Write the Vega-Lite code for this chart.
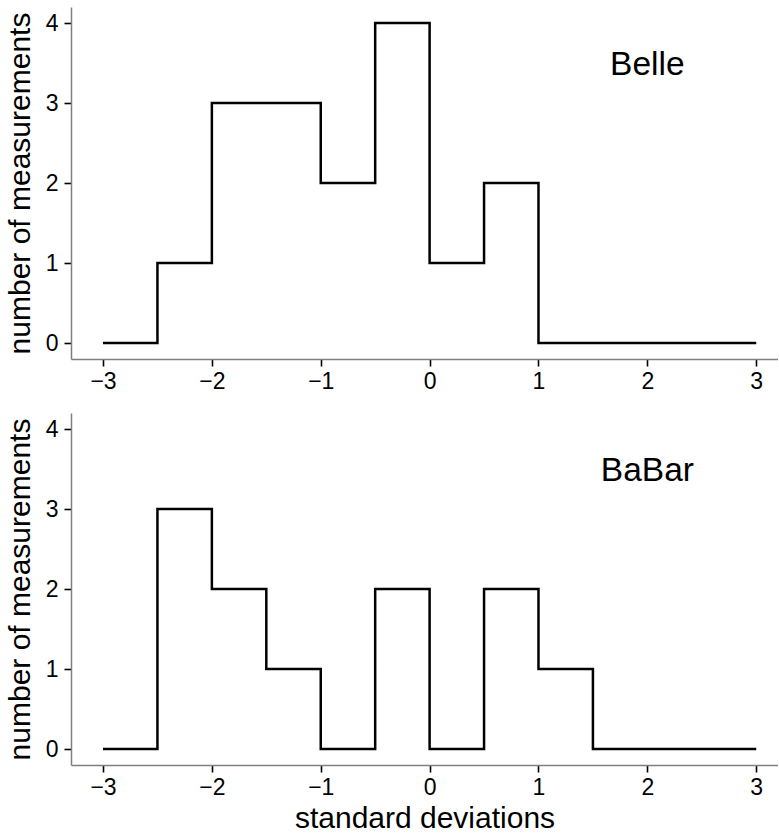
{
  "$schema": "https://vega.github.io/schema/vega-lite/v6.json",
  "padding": {"left": 5, "top": 7, "right": 0, "bottom": 0},
  "background": "white",
  "spacing": 20,
  "config": {
    "view": {"stroke": null},
    "font": "Liberation Sans",
    "axis": {
      "grid": false,
      "domainColor": "#7f7f7f",
      "domainWidth": 1.5,
      "tickColor": "#000000",
      "tickWidth": 1.6,
      "tickSize": 7,
      "labelFont": "Liberation Sans",
      "labelFontSize": 23,
      "labelColor": "#000000",
      "titleFont": "Liberation Sans",
      "titleFontSize": 30,
      "titleFontWeight": "normal",
      "titleColor": "#000000"
    }
  },
  "datasets": {
    "hist": [
      {"exp": "Belle", "sd": -3.0, "n": 0},
      {"exp": "Belle", "sd": -2.5, "n": 1},
      {"exp": "Belle", "sd": -2.0, "n": 3},
      {"exp": "Belle", "sd": -1.5, "n": 3},
      {"exp": "Belle", "sd": -1.0, "n": 2},
      {"exp": "Belle", "sd": -0.5, "n": 4},
      {"exp": "Belle", "sd": 0.0, "n": 1},
      {"exp": "Belle", "sd": 0.5, "n": 2},
      {"exp": "Belle", "sd": 1.0, "n": 0},
      {"exp": "Belle", "sd": 1.5, "n": 0},
      {"exp": "Belle", "sd": 2.0, "n": 0},
      {"exp": "Belle", "sd": 2.5, "n": 0},
      {"exp": "Belle", "sd": 3.0, "n": 0},
      {"exp": "BaBar", "sd": -3.0, "n": 0},
      {"exp": "BaBar", "sd": -2.5, "n": 3},
      {"exp": "BaBar", "sd": -2.0, "n": 2},
      {"exp": "BaBar", "sd": -1.5, "n": 1},
      {"exp": "BaBar", "sd": -1.0, "n": 0},
      {"exp": "BaBar", "sd": -0.5, "n": 2},
      {"exp": "BaBar", "sd": 0.0, "n": 0},
      {"exp": "BaBar", "sd": 0.5, "n": 2},
      {"exp": "BaBar", "sd": 1.0, "n": 1},
      {"exp": "BaBar", "sd": 1.5, "n": 0},
      {"exp": "BaBar", "sd": 2.0, "n": 0},
      {"exp": "BaBar", "sd": 2.5, "n": 0},
      {"exp": "BaBar", "sd": 3.0, "n": 0}
    ],
    "labels": [
      {"exp": "Belle", "sd": 2.0, "n": 3.35},
      {"exp": "BaBar", "sd": 2.0, "n": 3.35}
    ]
  },
  "vconcat": [
    {
      "width": 707,
      "height": 352,
      "layer": [
        {
          "data": {"name": "hist"},
          "transform": [{"filter": "datum.exp === 'Belle'"}],
          "mark": {"type": "line", "interpolate": "step-after", "color": "#000000", "strokeWidth": 2.5},
          "encoding": {
            "x": {"field": "sd", "type": "quantitative", "scale": {"domain": [-3.294, 3.2], "nice": false, "zero": false}, "axis": {"values": [-3, -2, -1, 0, 1, 2, 3], "format": "d", "title": null, "labelPadding": 4, "labelExpr": "replace(datum.label, '-', '\u2212')"}},
            "y": {"field": "n", "type": "quantitative", "scale": {"domain": [-0.2, 4.2], "nice": false, "zero": false}, "axis": {"values": [0, 1, 2, 3, 4], "format": "d", "title": "number of measurements", "labelPadding": 6, "titlePadding": 10}}
          }
        },
        {
          "mark": {"type": "rule", "color": "#7f7f7f", "strokeWidth": 1.5},
          "encoding": {"y": {"datum": 4.2, "type": "quantitative"}}
        },
        {
          "data": {"name": "labels"},
          "transform": [{"filter": "datum.exp === 'Belle'"}],
          "mark": {"type": "text", "fontSize": 33.5, "font": "Liberation Sans", "color": "#000000", "baseline": "alphabetic", "align": "center"},
          "encoding": {
            "x": {"field": "sd", "type": "quantitative"},
            "y": {"field": "n", "type": "quantitative"},
            "text": {"field": "exp"}
          }
        }
      ]
    },
    {
      "width": 707,
      "height": 352,
      "layer": [
        {
          "data": {"name": "hist"},
          "transform": [{"filter": "datum.exp === 'BaBar'"}],
          "mark": {"type": "line", "interpolate": "step-after", "color": "#000000", "strokeWidth": 2.5},
          "encoding": {
            "x": {"field": "sd", "type": "quantitative", "scale": {"domain": [-3.294, 3.2], "nice": false, "zero": false}, "axis": {"values": [-3, -2, -1, 0, 1, 2, 3], "format": "d", "title": "standard deviations", "labelPadding": 4, "titlePadding": 4, "labelExpr": "replace(datum.label, '-', '\u2212')"}},
            "y": {"field": "n", "type": "quantitative", "scale": {"domain": [-0.2, 4.2], "nice": false, "zero": false}, "axis": {"values": [0, 1, 2, 3, 4], "format": "d", "title": "number of measurements", "labelPadding": 6, "titlePadding": 10}}
          }
        },
        {
          "mark": {"type": "rule", "color": "#7f7f7f", "strokeWidth": 1.5},
          "encoding": {"y": {"datum": 4.2, "type": "quantitative"}}
        },
        {
          "data": {"name": "labels"},
          "transform": [{"filter": "datum.exp === 'BaBar'"}],
          "mark": {"type": "text", "fontSize": 33.5, "font": "Liberation Sans", "color": "#000000", "baseline": "alphabetic", "align": "center"},
          "encoding": {
            "x": {"field": "sd", "type": "quantitative"},
            "y": {"field": "n", "type": "quantitative"},
            "text": {"field": "exp"}
          }
        }
      ]
    }
  ]
}
